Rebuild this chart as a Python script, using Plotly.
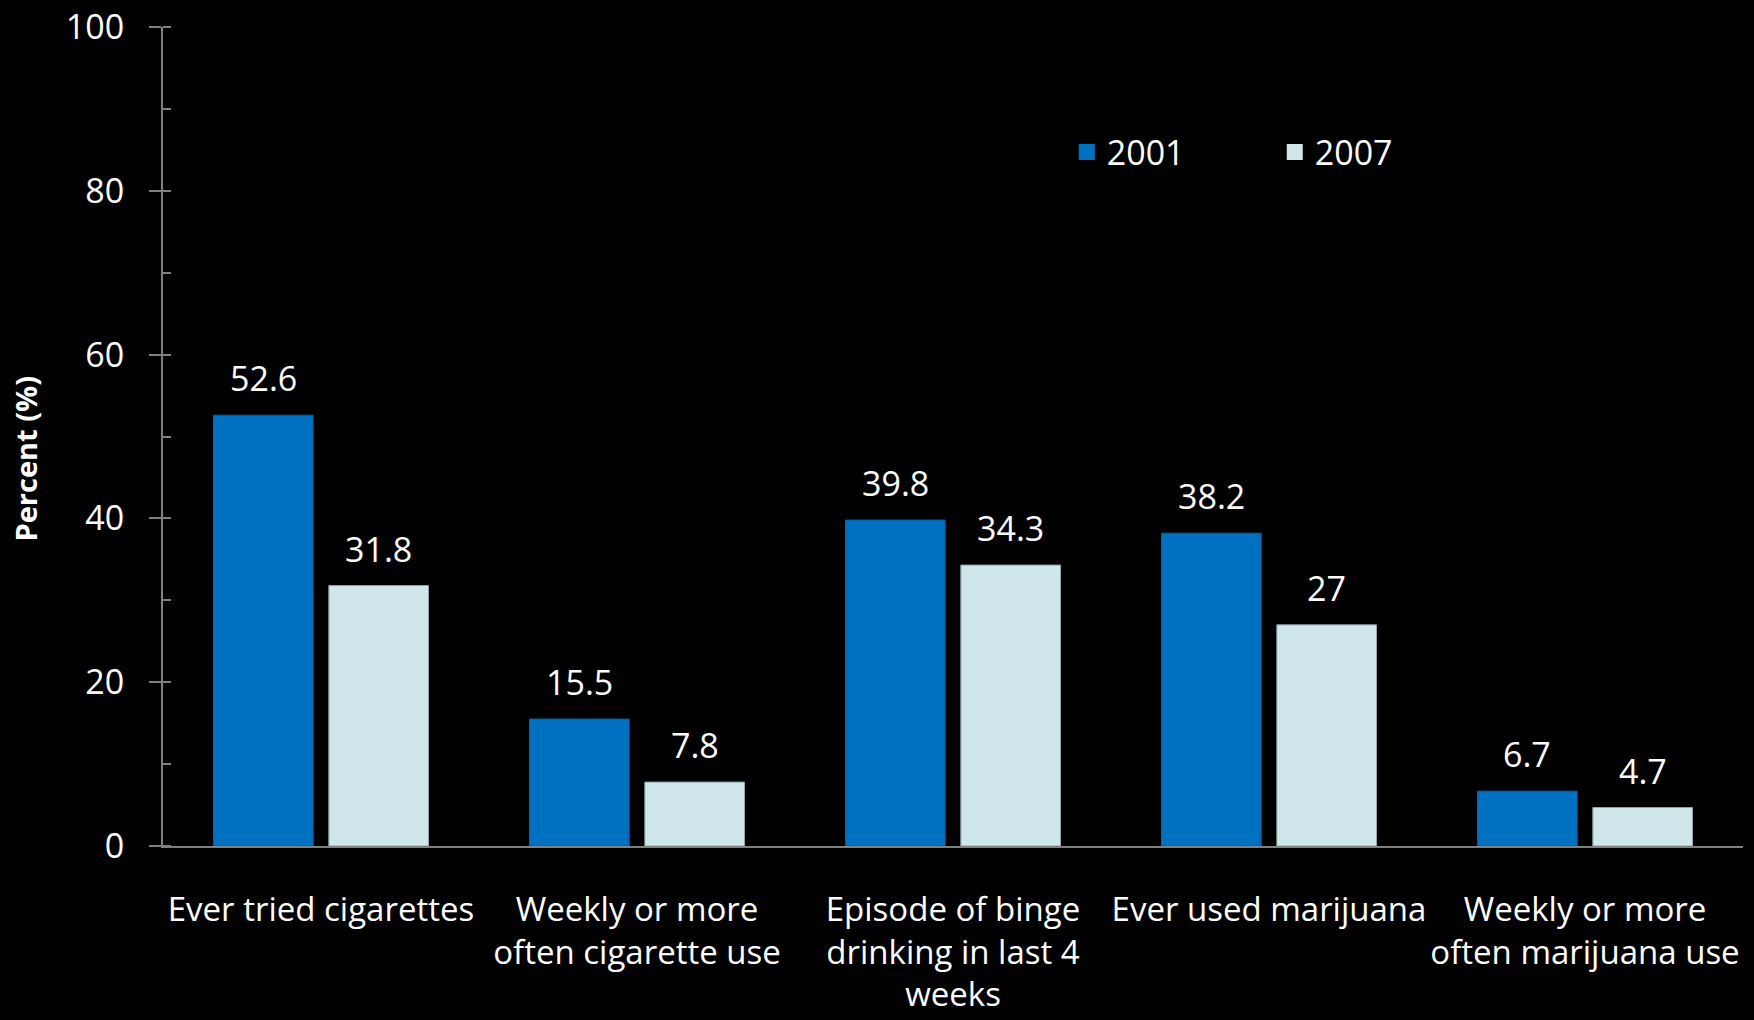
import plotly.graph_objects as go

categories = ["Ever tried cigarettes", "Weekly or more<br>often cigarette use",
              "Episode of binge<br>drinking in last 4<br>weeks", "Ever used marijuana",
              "Weekly or more<br>often marijuana use"]
val_2001 = [52.6, 15.5, 39.8, 38.2, 6.7]
val_2007 = [31.8, 7.8, 34.3, 27, 4.7]
lbl_2001 = ["52.6", "15.5", "39.8", "38.2", "6.7"]
lbl_2007 = ["31.8", "7.8", "34.3", "27", "4.7"]

c2001 = "#0070C0"
c2007 = "#CFE7EA"
font = "Open Sans"
bargap = 0.27

fig = go.Figure()
fig.add_trace(go.Bar(x=categories, y=val_2001, name="2001", marker_color=c2001,
                     marker_line=dict(color="#0A5E9C", width=1), showlegend=False))
fig.add_trace(go.Bar(x=categories, y=val_2007, name="2007", marker_color=c2007,
                     marker_line=dict(color="#8FA3A8", width=1), showlegend=False))

# legend proxies (bigger squares than the bar legend icon)
for nm, col in [("2001", c2001), ("2007", c2007)]:
    fig.add_trace(go.Scatter(x=[None], y=[None], mode="markers", name=nm,
                             marker=dict(symbol="square", size=16, color=col)))

# value labels over each bar
off = (1 - bargap) / 4
for i in range(len(categories)):
    for dx, v, t in [(-off, val_2001[i], lbl_2001[i]), (off, val_2007[i], lbl_2007[i])]:
        fig.add_annotation(x=i + dx, y=v, text=t, showarrow=False, yanchor="bottom",
                           yshift=12, font=dict(family=font, size=34, color="white"))

# y title sits a bit below the plot centre in the original
fig.add_annotation(text="<b>Percent (%)</b>", xref="paper", yref="paper", x=0, y=0.5,
                   xanchor="center", yanchor="middle", xshift=-138, yshift=-22,
                   textangle=-90, showarrow=False, font=dict(size=29, color="white"))

fig.update_layout(
    width=1754, height=1020,
    paper_bgcolor="black", plot_bgcolor="black",
    margin=dict(l=163, r=11, t=27, b=174),
    barmode="group", bargap=bargap, bargroupgap=0.136,
    font=dict(family=font, color="white", size=33),
    showlegend=True,
    legend=dict(orientation="h", x=0.572, y=0.847, xanchor="left", yanchor="middle",
                font=dict(size=34, color="white"), bgcolor="rgba(0,0,0,0)",
                entrywidth=163, itemsizing="trace"),
)
fig.update_xaxes(showgrid=False, showline=True, linecolor="#808080", linewidth=2,
                 ticks="", ticklabelstandoff=33, tickfont=dict(size=33),
                 zeroline=False, automargin=False)
fig.update_yaxes(range=[0, 100], dtick=20, showgrid=False, zeroline=False,
                 showline=True, linecolor="#808080", linewidth=2,
                 ticks="outside", ticklen=12, tickwidth=2, tickcolor="#808080",
                 minor=dict(dtick=10, ticks="inside", ticklen=8, tickwidth=2,
                            tickcolor="#808080", showgrid=False),
                 ticklabelstandoff=18, tickfont=dict(size=34), automargin=False)

fig.write_html("out.html", config={"displayModeBar": False},
               post_script="document.body.style.margin='0';document.body.style.background='black';")
